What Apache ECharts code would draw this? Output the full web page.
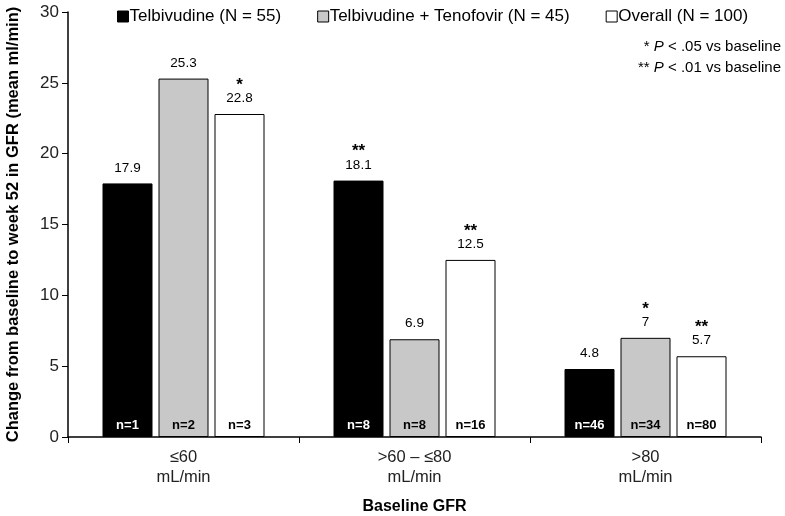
<!DOCTYPE html>
<html>
<head>
<meta charset="utf-8">
<script src="https://cdn.jsdelivr.net/npm/echarts@6/dist/echarts.min.js"></script>
<style>
  html, body { margin: 0; padding: 0; background: #fff; }
  #chart { width: 785px; height: 516px; }
</style>
</head>
<body>
<div id="chart"></div>
<script>
const categories = ["≤60\nmL/min", ">60 – ≤80\nmL/min", ">80\nmL/min"];
const seriesNames = ["Telbivudine (N = 55)", "Telbivudine + Tenofovir (N = 45)", "Overall (N = 100)"];
const telbivudine = [17.9, 18.1, 4.8];
const combo = [25.3, 6.9, 7];
const overall = [22.8, 12.5, 5.7];
const telbivudineN = ["n=1", "n=8", "n=46"];
const comboN = ["n=2", "n=8", "n=34"];
const overallN = ["n=3", "n=16", "n=80"];
const telbivudineSig = ["", "**", ""];
const comboSig = ["", "", "*"];
const overallSig = ["*", "**", "**"];
const yTicks = [0, 5, 10, 15, 20, 25, 30];

const font = "Liberation Sans, Arial, sans-serif";
const colors = ["#000000", "#c8c8c8", "#ffffff"];
const nColors = ["#ffffff", "#000000", "#000000"];

function mainSeries(i, values, nLabels) {
  return {
    name: seriesNames[i],
    type: "bar",
    stack: "s" + i,
    barWidth: 50,
    data: values,
    itemStyle: { color: colors[i], borderColor: "#000", borderWidth: 1 },
    label: {
      show: true,
      position: "insideBottom",
      distance: 5,
      fontFamily: font,
      fontSize: 13,
      fontWeight: "bold",
      color: nColors[i],
      formatter: (p) => nLabels[p.dataIndex],
    },
  };
}

function topSeries(i, values, sig) {
  return {
    name: "top" + i,
    type: "bar",
    stack: "s" + i,
    barWidth: 50,
    data: values.map(() => 0),
    itemStyle: { color: "transparent" },
    silent: true,
    label: {
      show: true,
      position: "top",
      distance: 8,
      fontFamily: font,
      color: "#000",
      formatter: (p) => {
        const v = "{v|" + values[p.dataIndex] + "}";
        const s = sig[p.dataIndex];
        return s ? "{s|" + s + "}\n" + v : v;
      },
      rich: {
        v: { fontSize: 13.5, fontFamily: font, color: "#000", lineHeight: 15 },
        s: { fontSize: 17, fontFamily: font, fontWeight: "bold", color: "#000", lineHeight: 12 },
      },
    },
  };
}

const chart = echarts.init(document.getElementById("chart"));
chart.setOption({
  backgroundColor: "#fff",
  animation: false,
  legend: {
    data: seriesNames,
    top: 3,
    left: 112,
    itemGap: 36,
    itemWidth: 11,
    itemHeight: 11,
    icon: "rect",
    itemStyle: { borderColor: "#000", borderWidth: 1 },
    textStyle: { fontFamily: font, fontSize: 17, color: "#000", padding: [0, 0, 0, -4] },
  },
  graphic: [
    {
      type: "text",
      right: 4,
      top: 39,
      style: {
        text: "* {i|P} < .05 vs baseline",
        fill: "#000",
        font: "15px " + font,
        textAlign: "right",
        rich: { i: { fontStyle: "italic", fontSize: 15, fontFamily: font } },
      },
    },
    {
      type: "text",
      right: 4,
      top: 60,
      style: {
        text: "** {i|P} < .01 vs baseline",
        fill: "#000",
        font: "15px " + font,
        textAlign: "right",
        rich: { i: { fontStyle: "italic", fontSize: 15, fontFamily: font } },
      },
    },
  ],
  grid: { left: 68, right: 24, top: 12, bottom: 79, containLabel: false, outerBoundsMode: "none" },
  xAxis: {
    type: "category",
    data: categories,
    name: "Baseline GFR",
    nameLocation: "middle",
    nameGap: 62,
    nameTextStyle: { fontFamily: font, fontSize: 16, fontWeight: "bold", color: "#000" },
    axisLine: { lineStyle: { color: "#000", width: 1.5 } },
    axisTick: { show: true, length: 6, lineStyle: { color: "#000" } },
    axisLabel: { fontFamily: font, fontSize: 16.5, color: "#222", margin: 10, lineHeight: 20 },
  },
  yAxis: {
    type: "value",
    min: 0,
    max: 30,
    interval: 5,
    name: "Change from baseline to week 52 in GFR (mean ml/min)",
    nameLocation: "middle",
    nameGap: 46,
    nameTextStyle: { fontFamily: font, fontSize: 16.5, fontWeight: "bold", color: "#000" },
    axisLine: { show: true, lineStyle: { color: "#000", width: 1.5 } },
    axisTick: { show: true, length: 6, lineStyle: { color: "#000" } },
    splitLine: { show: false },
    axisLabel: {
      fontFamily: font,
      fontSize: 17,
      color: "#222",
      margin: 9,
      formatter: (v) => (yTicks.includes(v) ? String(v) : ""),
    },
  },
  series: [
    mainSeries(0, telbivudine, telbivudineN),
    mainSeries(1, combo, comboN),
    mainSeries(2, overall, overallN),
    topSeries(0, telbivudine, telbivudineSig),
    topSeries(1, combo, comboSig),
    topSeries(2, overall, overallSig),
  ],
  barGap: "12%",
});
</script>
</body>
</html>
